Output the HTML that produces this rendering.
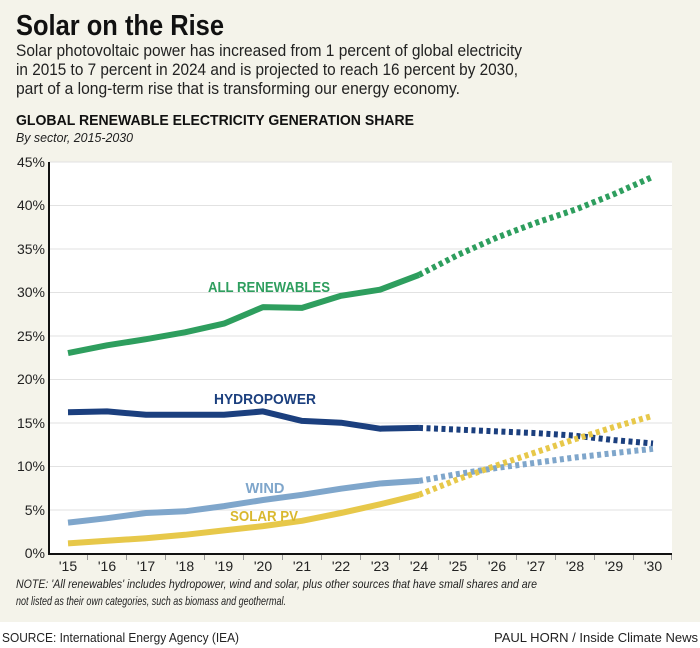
<!DOCTYPE html>
<html><head><meta charset="utf-8"><style>
html,body{margin:0;padding:0;background:#fff}
svg{display:block}
text{font-family:"Liberation Sans",sans-serif}
</style></head><body>
<svg width="700" height="648" viewBox="0 0 700 648" xmlns="http://www.w3.org/2000/svg">
<rect x="0" y="0" width="700" height="622" fill="#f4f3ea"/>
<rect x="0" y="622" width="700" height="26" fill="#ffffff"/>
<text x="16" y="35" font-size="29" font-weight="bold" fill="#111" textLength="208" lengthAdjust="spacingAndGlyphs">Solar on the Rise</text>
<text x="16" y="56" font-size="17" fill="#222" textLength="506" lengthAdjust="spacingAndGlyphs">Solar photovoltaic power has increased from 1 percent of global electricity</text>
<text x="16" y="75" font-size="17" fill="#222" textLength="502" lengthAdjust="spacingAndGlyphs">in 2015 to 7 percent in 2024 and is projected to reach 16 percent by 2030,</text>
<text x="16" y="94" font-size="17" fill="#222" textLength="444" lengthAdjust="spacingAndGlyphs">part of a long-term rise that is transforming our energy economy.</text>
<text x="16" y="125" font-size="15" font-weight="bold" fill="#111" textLength="398" lengthAdjust="spacingAndGlyphs">GLOBAL RENEWABLE ELECTRICITY GENERATION SHARE</text>
<text x="16" y="142" font-size="13" font-style="italic" fill="#222" textLength="117" lengthAdjust="spacingAndGlyphs">By sector, 2015-2030</text>

<rect x="49" y="162" width="623" height="391" fill="#fff"/>
<g stroke="#e2e2e2" stroke-width="1">
<line x1="49" x2="672" y1="162" y2="162"/>
<line x1="49" x2="672" y1="205.5" y2="205.5"/>
<line x1="49" x2="672" y1="249" y2="249"/>
<line x1="49" x2="672" y1="292.5" y2="292.5"/>
<line x1="49" x2="672" y1="336" y2="336"/>
<line x1="49" x2="672" y1="379.5" y2="379.5"/>
<line x1="49" x2="672" y1="423" y2="423"/>
<line x1="49" x2="672" y1="466.5" y2="466.5"/>
<line x1="49" x2="672" y1="510" y2="510"/>
</g>
<g font-size="14" fill="#222" text-anchor="end">
<text x="45" y="167">45%</text><text x="45" y="210">40%</text><text x="45" y="254">35%</text>
<text x="45" y="297">30%</text><text x="45" y="341">25%</text><text x="45" y="384">20%</text>
<text x="45" y="428">15%</text><text x="45" y="471">10%</text><text x="45" y="515">5%</text>
<text x="45" y="558">0%</text>
</g>
<line x1="49" y1="162" x2="49" y2="555" stroke="#111" stroke-width="2"/>
<line x1="48" y1="554" x2="672" y2="554" stroke="#111" stroke-width="2"/>
<g stroke="#999" stroke-width="1">
<line x1="87.5" x2="87.5" y1="555" y2="560"/><line x1="126.5" x2="126.5" y1="555" y2="560"/><line x1="165.5" x2="165.5" y1="555" y2="560"/><line x1="204.5" x2="204.5" y1="555" y2="560"/><line x1="243.5" x2="243.5" y1="555" y2="560"/><line x1="282.5" x2="282.5" y1="555" y2="560"/><line x1="321.5" x2="321.5" y1="555" y2="560"/><line x1="360.5" x2="360.5" y1="555" y2="560"/><line x1="399.5" x2="399.5" y1="555" y2="560"/><line x1="438.5" x2="438.5" y1="555" y2="560"/><line x1="477.5" x2="477.5" y1="555" y2="560"/><line x1="516.5" x2="516.5" y1="555" y2="560"/><line x1="555.5" x2="555.5" y1="555" y2="560"/><line x1="594.5" x2="594.5" y1="555" y2="560"/><line x1="633.5" x2="633.5" y1="555" y2="560"/><line x1="671.5" x2="671.5" y1="555" y2="560"/>
</g>
<g font-size="14" fill="#222" text-anchor="middle">
<text x="68" y="571">'15</text><text x="107" y="571">'16</text><text x="146" y="571">'17</text><text x="185" y="571">'18</text><text x="224" y="571">'19</text><text x="263" y="571">'20</text><text x="302" y="571">'21</text><text x="341" y="571">'22</text><text x="380" y="571">'23</text><text x="419" y="571">'24</text><text x="458" y="571">'25</text><text x="497" y="571">'26</text><text x="536" y="571">'27</text><text x="575" y="571">'28</text><text x="614" y="571">'29</text><text x="653" y="571">'30</text>
</g>

<g fill="none" stroke-width="6" stroke-linejoin="round">
<polyline stroke="#2e9e5e" points="68,353.1 107,345.3 146,339.2 185,332.3 224,323.6 263,307.1 302,307.9 341,295.8 380,289.7 419,274.9"/>
<polyline stroke="#2e9e5e" stroke-dasharray="4,3.5" points="419,274.9 458,254.9 497,237.5 536,222.8 575,209.7 614,194.1 653,176.7"/>
<polyline stroke="#1b3f7e" points="68,412.2 107,411.4 146,414.8 185,414.8 224,414.8 263,411.4 302,420.9 341,422.7 380,428.7 419,427.9"/>
<polyline stroke="#1b3f7e" stroke-dasharray="4,3.5" points="419,427.9 458,429.6 497,431.4 536,433.1 575,435.7 614,440.1 653,443.5"/>
<polyline stroke="#7fa6cb" points="68,522.6 107,518.2 146,513 185,511.3 224,506.1 263,500 302,494.8 341,488.7 380,483.5 419,480.9"/>
<polyline stroke="#7fa6cb" stroke-dasharray="4,3.5" points="419,480.9 458,474 497,467.9 536,462.7 575,457.5 614,453.1 653,448.8"/>
<polyline stroke="#e7c84a" points="68,543.4 107,540.8 146,538.2 185,534.8 224,530.4 263,526.1 302,520.8 341,513 380,504.3 419,494.8"/>
<polyline stroke="#e7c84a" stroke-dasharray="4,3.5" points="419,494.8 458,479.2 497,465.3 536,452.2 575,439.2 614,427 653,415.7"/>
</g>

<g font-size="15" font-weight="bold" text-anchor="middle">
<text x="269" y="292" fill="#2e9e5e" textLength="122" lengthAdjust="spacingAndGlyphs">ALL RENEWABLES</text>
<text x="265" y="404" fill="#1b3f7e" textLength="102" lengthAdjust="spacingAndGlyphs">HYDROPOWER</text>
<text x="265" y="493" fill="#7fa6cb" textLength="39" lengthAdjust="spacingAndGlyphs">WIND</text>
<text x="264" y="521" fill="#d9b82e" textLength="68" lengthAdjust="spacingAndGlyphs">SOLAR PV</text>
</g>

<text x="16" y="588" font-size="12" font-style="italic" fill="#222" textLength="521" lengthAdjust="spacingAndGlyphs">NOTE: 'All renewables' includes hydropower, wind and solar, plus other sources that have small shares and are</text>
<text x="16" y="605" font-size="12" font-style="italic" fill="#222" textLength="270" lengthAdjust="spacingAndGlyphs">not listed as their own categories, such as biomass and geothermal.</text>
<text x="2" y="642" font-size="13" fill="#222" textLength="237" lengthAdjust="spacingAndGlyphs">SOURCE: International Energy Agency (IEA)</text>
<text x="698" y="642" font-size="13" fill="#222" text-anchor="end" textLength="204" lengthAdjust="spacingAndGlyphs">PAUL HORN / Inside Climate News</text>
</svg>
</body></html>
